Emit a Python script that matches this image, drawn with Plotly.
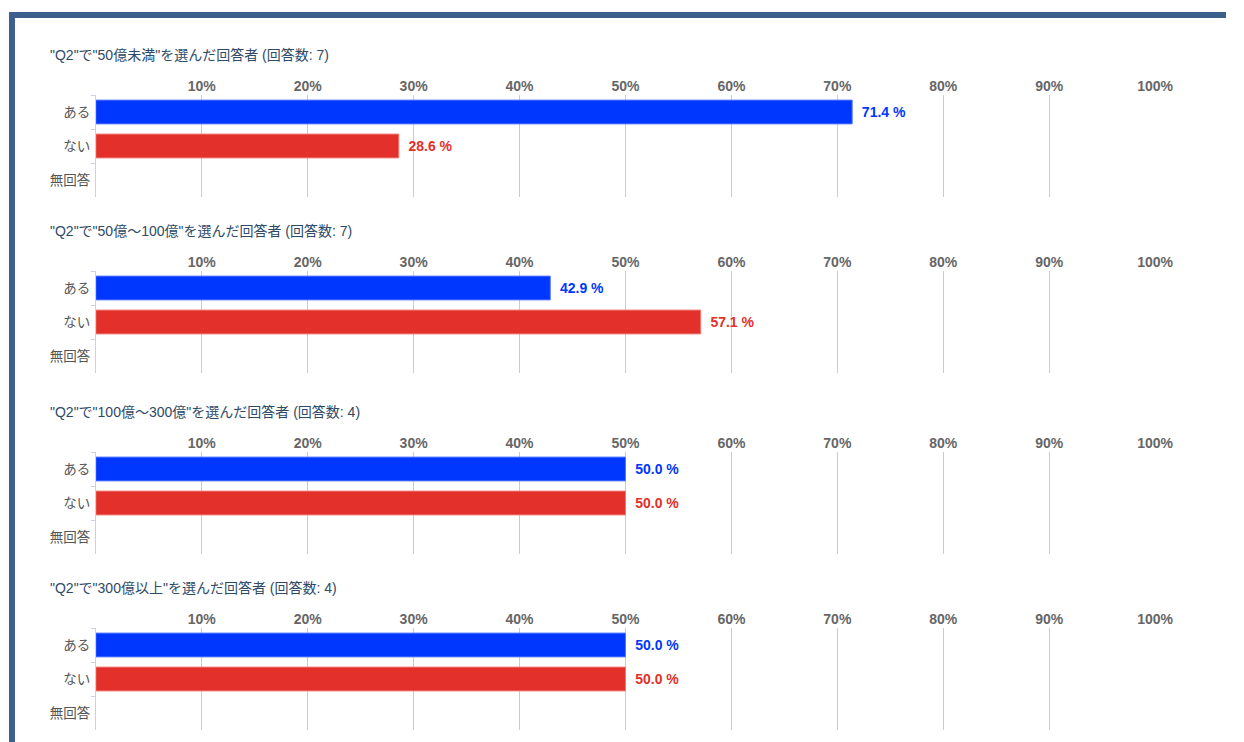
import plotly.graph_objects as go

W, H = 1244, 742
SX = 1244 / 1228  # horizontal calibration observed in the rendered page

panel_titles = [
    '"Q2"で"50億未満"を選んだ回答者 (回答数: 7)',
    '"Q2"で"50億〜100億"を選んだ回答者 (回答数: 7)',
    '"Q2"で"100億〜300億"を選んだ回答者 (回答数: 4)',
    '"Q2"で"300億以上"を選んだ回答者 (回答数: 4)',
]
categories = ["ある", "ない", "無回答"]
aru_values = [71.4, 42.9, 50.0, 50.0]
nai_values = [28.6, 57.1, 50.0, 50.0]
tick_values = [10, 20, 30, 40, 50, 60, 70, 80, 90, 100]
tick_labels = ["10%", "20%", "30%", "40%", "50%", "60%", "70%", "80%", "90%", "100%"]

BLUE = "#0037ff"
RED = "#e3302b"
FONT = "Liberation Sans, Noto Sans CJK JP, sans-serif"

# screen pixel layout of each panel (title center y, plot area top, plot area bottom)
panel_px = [(55, 95, 197), (231, 271, 373), (412, 452, 554), (588, 628, 730)]
x_left, x_right = 96, 1157

def px(p):
    return min(1.0, p * SX / W)

def py(p):
    return 1 - p / H

fig = go.Figure()
layout = dict(
    width=W, height=H,
    margin=dict(l=0, r=0, t=0, b=0),
    paper_bgcolor="white", plot_bgcolor="white",
    showlegend=False,
    font=dict(family=FONT),
    annotations=[], shapes=[],
)

for i in range(4):
    xa = "x" if i == 0 else f"x{i+1}"
    ya = "y" if i == 0 else f"y{i+1}"
    xk = "xaxis" if i == 0 else f"xaxis{i+1}"
    yk = "yaxis" if i == 0 else f"yaxis{i+1}"
    vals = [aru_values[i], nai_values[i], None]
    cols = [BLUE, RED, RED]
    txt = [f"\u2009 {aru_values[i]:.1f} %", f"\u2009 {nai_values[i]:.1f} %", ""]
    fig.add_trace(go.Bar(
        x=vals, y=categories, orientation="h",
        marker=dict(color=cols, line=dict(color=["#5577ff", "#ee7a72", "#ee7a72"], width=1)),
        text=txt, textposition="outside", cliponaxis=False,
        textfont=dict(color=cols, size=14, family=FONT, weight="bold"),
        xaxis=xa, yaxis=ya, width=0.7, hoverinfo="skip",
    ))
    tc, top, bot = panel_px[i]
    layout[xk] = dict(
        domain=[px(x_left), px(x_right)], range=[0, 100], side="top",
        anchor=ya, tickvals=tick_values, ticktext=tick_labels,
        showgrid=True, gridcolor="#cccccc", gridwidth=1,
        zeroline=False, showline=False, ticks="",
        tickfont=dict(size=14, color="#666666", family=FONT, weight="bold"),
        ticklabelstandoff=0, fixedrange=True,
    )
    layout[yk] = dict(
        domain=[py(bot), py(top)], anchor=xa,
        categoryorder="array", categoryarray=categories,
        autorange="reversed",
        showline=True, linecolor="#c5d3e3", linewidth=1,
        ticks="outside", ticklen=4, tickcolor="#c5d3e3", tickson="boundaries",
        showgrid=False, zeroline=False,
        tickfont=dict(size=13.5, color="#555555", family=FONT),
        ticklabelstandoff=2, fixedrange=True,
    )
    layout["annotations"].append(dict(
        text=panel_titles[i], x=px(48), y=py(tc), xref="paper", yref="paper",
        xanchor="left", yanchor="middle", showarrow=False,
        font=dict(size=14, color="#2e4a66", family=FONT),
    ))

# frame border (top and left)
layout["shapes"].append(dict(type="rect", xref="paper", yref="paper",
    x0=px(9), x1=1, y0=py(18), y1=py(12), fillcolor="#3d5f8c", line=dict(width=0), layer="above"))
layout["shapes"].append(dict(type="rect", xref="paper", yref="paper",
    x0=px(9), x1=px(15), y0=0, y1=py(12), fillcolor="#3d5f8c", line=dict(width=0), layer="above"))

fig.update_layout(**layout)
fig.write_html(
    "out.html",
    config={"displayModeBar": False},
    post_script="document.documentElement.style.margin='0';document.body.style.margin='0';"
                "document.body.style.overflow='hidden';",
)
